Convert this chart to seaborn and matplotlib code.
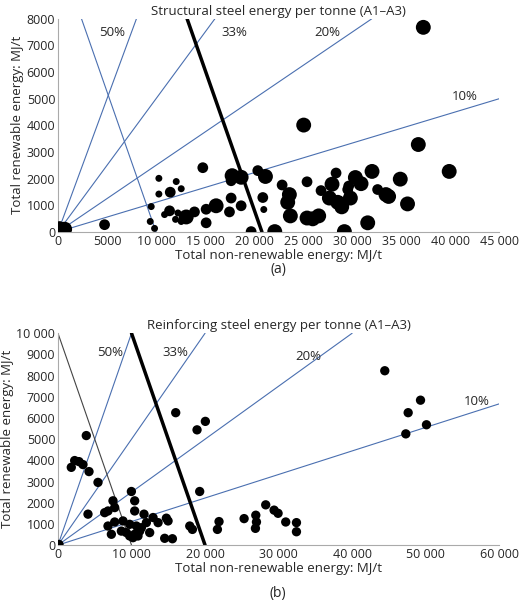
import matplotlib
matplotlib.use("Agg")
import matplotlib.pyplot as plt
import seaborn as sns
import pandas as pd

sns.set_theme(style="white")
plt.rcParams['font.family'] = ['Open Sans', 'DejaVu Sans']

# Structural steel (a)
s_x = [37260,25060,36750,39900,14770,17760,18680,20380,21160,10290,12060,10290,11450,12570,17660,17660,18680,17490,16130,15110,13920,13080,12230,11380,10870,11990,12570,15110,9510,9410,9850,4750,680,170,19700,20890,20990,22110,22860,23600,23430,23700,25400,25400,25980,26590,26830,27950,28360,27680,28530,28940,29210,29550,29820,29650,30330,30910,32030,31590,32600,33450,33720,34910,35650]
s_y = [7680,4010,3280,2270,2410,2110,2050,2300,2080,2010,1890,1420,1490,1620,1920,1270,980,750,980,850,750,560,710,790,650,470,390,340,950,390,130,270,100,200,10,1290,840,10,1760,1400,1110,600,1880,520,490,600,1550,1790,2210,1270,1110,940,10,1590,1270,1720,2040,1810,2270,340,1590,1400,1330,1980,1050]
s_size = ['L','L','L','L','M','L','L','M','L','S','S','S','M','S','M','M','M','M','L','M','M','L','S','M','S','S','S','M','S','S','S','M','L','M','M','M','S','L','M','L','L','L','M','L','L','L','M','L','M','L','L','L','L','M','L','M','L','L','L','L','M','L','L','L','L']

# Reinforcing steel (b)
r_x = [44440,49300,47620,50110,47300,16010,18910,20040,19270,3850,1810,2270,2860,3400,4220,5440,4080,9980,10430,10430,7480,7710,6350,6800,7710,6800,7260,8620,8840,9750,10430,11110,11700,12020,12470,12930,13610,14510,14740,14970,15560,17920,18280,21900,21680,25310,26900,26990,26850,28250,29390,29930,30970,32430,32430,140,9300,10200,10880,9750,11340,10660]
r_y = [8230,6840,6250,5680,5250,6250,5440,5840,2530,5170,3670,3990,3940,3800,3470,2960,1460,2530,2090,1610,2090,1770,1530,1610,1090,900,510,660,1140,980,510,660,1460,1060,590,1300,1060,320,1270,1140,300,900,740,1110,740,1250,1410,1090,790,1900,1650,1500,1090,1060,630,30,590,350,430,430,820,900]

ratios = {'50%': 1.0, '33%': 0.5, '20%': 0.25, '10%': 1/9}
blue = '#4a6fb0'

fig = plt.figure(figsize=(5.2, 6.07), dpi=100)
ax1 = fig.add_axes([0.1115, 0.618, 0.8485, 0.351])
ax2 = fig.add_axes([0.1115, 0.102, 0.8485, 0.349])

def fmt(v):
    v = int(v)
    return f"{v:,}".replace(",", " ") if v >= 10000 else str(v)

def style(ax, xmax, ymax, xstep, ystep):
    ax.set_xlim(0, xmax); ax.set_ylim(0, ymax)
    for s in ['top', 'right']:
        ax.spines[s].set_visible(False)
    for s in ['left', 'bottom']:
        ax.spines[s].set_color('#aaaaaa'); ax.spines[s].set_linewidth(0.8)
    xt = list(range(0, xmax + 1, xstep)); yt = list(range(0, ymax + 1, ystep))
    ax.set_xticks(xt); ax.set_xticklabels([fmt(v) for v in xt], fontsize=9)
    ax.set_yticks(yt); ax.set_yticklabels([fmt(v) for v in yt], fontsize=9)
    ax.tick_params(length=0, pad=2)

# (a)
style(ax1, 45000, 8000, 5000, 1000)
for lab, r in ratios.items():
    xe = min(45000, 8000 / r)
    ax1.plot([0, xe], [0, xe * r], color=blue, lw=0.8, zorder=1)
ax1.plot([2400, 10000], [8000, 0], color=blue, lw=0.8, zorder=1)
ax1.plot([13170, 20800], [8000, 0], color='black', lw=2.5, zorder=1)
sizemap = {'S': 25, 'M': 60, 'L': 115}
df1 = pd.DataFrame({'x': s_x, 'y': s_y, 's': s_size})
sns.scatterplot(data=df1, x='x', y='y', size='s', sizes=sizemap, color='black',
                edgecolor='none', legend=False, ax=ax1, zorder=3)
for lab, (x, y) in {'50%': (5500, 7500), '33%': (18000, 7500), '20%': (27500, 7500), '10%': (41500, 5100)}.items():
    ax1.text(x, y, lab, fontsize=9.5, ha='center', va='center')
ax1.set_title('Structural steel energy per tonne (A1–A3)', fontsize=9.5, pad=3)
ax1.set_xlabel('Total non-renewable energy: MJ/t', fontsize=9.5, labelpad=1)
ax1.set_ylabel('Total renewable energy: MJ/t', fontsize=9.5, labelpad=2)
fig.text(0.535, 0.556, '(a)', ha='center', va='center', fontsize=10)

# (b)
style(ax2, 60000, 10000, 10000, 1000)
for lab, r in ratios.items():
    xe = min(60000, 10000 / r)
    ax2.plot([0, xe], [0, xe * r], color=blue, lw=0.8, zorder=1)
ax2.plot([0, 10000], [10000, 0], color='#444444', lw=0.8, zorder=1)
ax2.plot([10000, 20000], [10000, 0], color='black', lw=2.5, zorder=1)
df2 = pd.DataFrame({'x': r_x, 'y': r_y})
sns.scatterplot(data=df2, x='x', y='y', s=45, color='black', edgecolor='none', ax=ax2, zorder=3)
for lab, (x, y) in {'50%': (7100, 9100), '33%': (16000, 9100), '20%': (34000, 8900), '10%': (57000, 6800)}.items():
    ax2.text(x, y, lab, fontsize=9.5, ha='center', va='center')
ax2.set_title('Reinforcing steel energy per tonne (A1–A3)', fontsize=9.5, pad=3)
ax2.set_xlabel('Total non-renewable energy: MJ/t', fontsize=9.5, labelpad=1)
ax2.set_ylabel('Total renewable energy: MJ/t', fontsize=9.5, labelpad=2)
fig.text(0.535, 0.022, '(b)', ha='center', va='center', fontsize=10)

fig.savefig('out.png', dpi=100)
